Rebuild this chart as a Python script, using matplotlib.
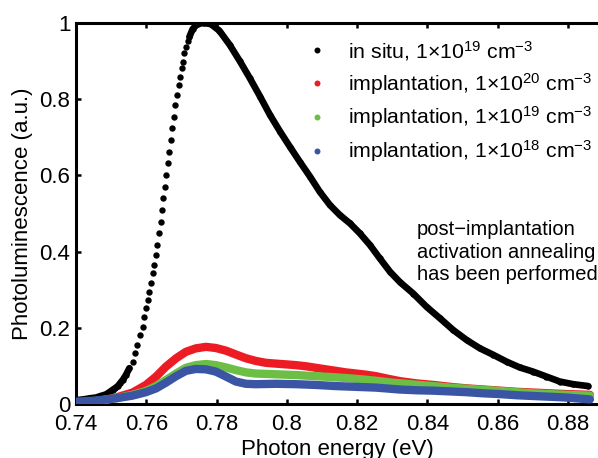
import matplotlib
matplotlib.use('Agg')
import matplotlib.pyplot as plt
import numpy as np
from matplotlib.lines import Line2D

plt.rcParams['font.family'] = ['Liberation Sans', 'DejaVu Sans']
plt.rcParams['mathtext.fontset'] = 'custom'
plt.rcParams['mathtext.rm'] = 'Liberation Sans'
plt.rcParams['mathtext.it'] = 'Liberation Sans:italic'
plt.rcParams['mathtext.bf'] = 'Liberation Sans:bold'

# --- Data ---
# in situ doped, 1e19 cm^-3
insitu_E = [0.7400, 0.7420, 0.7440, 0.7457, 0.7470, 0.7485, 0.7495, 0.7504, 0.7512, 0.7519,
            0.7526, 0.7533, 0.7542, 0.7552, 0.7561, 0.7569, 0.7575, 0.7583, 0.7590, 0.7594,
            0.7599, 0.7604, 0.7609, 0.7613, 0.7618, 0.7623, 0.7628, 0.7631, 0.7636, 0.7641,
            0.7645, 0.7649, 0.7653, 0.7657, 0.7662, 0.7666, 0.7670, 0.7674, 0.7678, 0.7683,
            0.7687, 0.7692, 0.7697, 0.7701, 0.7704, 0.7708, 0.7713, 0.7718, 0.7723, 0.7732,
            0.7746, 0.7765, 0.7784, 0.7808, 0.7838, 0.7867, 0.7895, 0.7924, 0.7952, 0.7981,
            0.8009, 0.8037, 0.8066, 0.8094, 0.8123, 0.8151, 0.8180, 0.8208, 0.8237, 0.8265,
            0.8294, 0.8322, 0.8360, 0.8398, 0.8436, 0.8474, 0.8512, 0.8550, 0.8588, 0.8626,
            0.8663, 0.8701, 0.8739, 0.8777, 0.8815, 0.8858]
insitu_I = [0.010, 0.012, 0.015, 0.017, 0.021, 0.025, 0.031, 0.037, 0.042, 0.047,
            0.055, 0.063, 0.076, 0.094, 0.111, 0.133, 0.155, 0.181, 0.203, 0.229,
            0.251, 0.273, 0.295, 0.317, 0.343, 0.365, 0.391, 0.417, 0.448, 0.479,
            0.509, 0.540, 0.570, 0.601, 0.632, 0.662, 0.693, 0.724, 0.754, 0.785,
            0.811, 0.836, 0.859, 0.881, 0.898, 0.920, 0.938, 0.952, 0.964, 0.984,
            0.998, 1.000, 0.997, 0.980, 0.942, 0.899, 0.855, 0.807, 0.759, 0.715,
            0.675, 0.636, 0.597, 0.557, 0.522, 0.496, 0.474, 0.448, 0.417, 0.382,
            0.347, 0.320, 0.290, 0.255, 0.225, 0.194, 0.168, 0.146, 0.129, 0.111,
            0.096, 0.085, 0.072, 0.059, 0.052, 0.047]

# implantation, 1e20 cm^-3
imp20_E = [0.7400, 0.7457, 0.7514, 0.7561, 0.7599, 0.7628, 0.7656, 0.7685, 0.7713, 0.7741,
           0.7770, 0.7798, 0.7827, 0.7855, 0.7884, 0.7912, 0.7941, 0.7969, 0.7998, 0.8026,
           0.8055, 0.8083, 0.8111, 0.8140, 0.8168, 0.8197, 0.8225, 0.8254, 0.8284, 0.8322,
           0.8370, 0.8417, 0.8465, 0.8512, 0.8560, 0.8607, 0.8654, 0.8701, 0.8750, 0.8796,
           0.8863]
imp20_I = [0.004, 0.006, 0.017, 0.030, 0.050, 0.072, 0.098, 0.120, 0.137, 0.146,
           0.150, 0.147, 0.140, 0.130, 0.120, 0.113, 0.108, 0.106, 0.104, 0.102,
           0.099, 0.095, 0.091, 0.087, 0.083, 0.080, 0.077, 0.073, 0.067, 0.060,
           0.054, 0.050, 0.045, 0.041, 0.038, 0.035, 0.032, 0.030, 0.028, 0.026,
           0.024]

# implantation, 1e19 cm^-3
imp19_E = [0.7400, 0.7457, 0.7514, 0.7561, 0.7599, 0.7628, 0.7656, 0.7685, 0.7713, 0.7741,
           0.7770, 0.7798, 0.7827, 0.7855, 0.7884, 0.7912, 0.7969, 0.8026, 0.8083, 0.8140,
           0.8197, 0.8254, 0.8300, 0.8350, 0.8417, 0.8465, 0.8512, 0.8560, 0.8607, 0.8654,
           0.8701, 0.8750, 0.8796, 0.8863]
imp19_I = [0.003, 0.008, 0.015, 0.024, 0.034, 0.047, 0.063, 0.080, 0.095, 0.102,
           0.105, 0.102, 0.096, 0.089, 0.083, 0.080, 0.078, 0.076, 0.073, 0.070,
           0.066, 0.061, 0.056, 0.052, 0.047, 0.043, 0.040, 0.037, 0.034, 0.031,
           0.028, 0.026, 0.024, 0.022]

# implantation, 1e18 cm^-3
imp18_E = [0.7400, 0.7457, 0.7514, 0.7561, 0.7599, 0.7628, 0.7656, 0.7685, 0.7713, 0.7741,
           0.7770, 0.7798, 0.7827, 0.7855, 0.7884, 0.7912, 0.7969, 0.8026, 0.8083, 0.8140,
           0.8197, 0.8254, 0.8322, 0.8370, 0.8417, 0.8465, 0.8512, 0.8560, 0.8607, 0.8654,
           0.8701, 0.8750, 0.8796, 0.8863]
imp18_I = [0.006, 0.009, 0.015, 0.022, 0.031, 0.041, 0.056, 0.073, 0.087, 0.092,
           0.091, 0.085, 0.072, 0.059, 0.053, 0.052, 0.053, 0.052, 0.050, 0.047,
           0.045, 0.043, 0.038, 0.036, 0.035, 0.033, 0.031, 0.028, 0.026, 0.023,
           0.021, 0.019, 0.017, 0.012]

labels = [r'in situ, 1$\times$10$^{19}$ cm$^{-3}$',
          r'implantation, 1$\times$10$^{20}$ cm$^{-3}$',
          r'implantation, 1$\times$10$^{19}$ cm$^{-3}$',
          r'implantation, 1$\times$10$^{18}$ cm$^{-3}$']
colors = ['#000000', '#ED1C24', '#6DBE45', '#3B55A5']

x_ticks = [0.74, 0.76, 0.78, 0.80, 0.82, 0.84, 0.86, 0.88]
y_ticks = [0, 0.2, 0.4, 0.6, 0.8, 1.0]

# --- Figure ---
fig = plt.figure(figsize=(5.98, 4.58), dpi=100)
ax = fig.add_axes([76 / 598, 1 - 404 / 458, 1 - 76 / 598, (404 - 23) / 458])

# in situ: dots, solid where the dots merge
E = np.array(insitu_E)
I = np.array(insitu_I)
I_line = np.where((E > 0.7556) & (E < 0.7720), np.nan, I)
ax.plot(E, I_line, '-', color=colors[0], lw=4.8, solid_capstyle='round', zorder=2)
ax.plot(E, I, 'o', color=colors[0], ms=4.6, mew=0, zorder=2)

# implanted samples: thick bands
for xs, ys, c, z in [(imp20_E, imp20_I, colors[1], 3),
                     (imp19_E, imp19_I, colors[2], 4),
                     (imp18_E, imp18_I, colors[3], 5)]:
    ax.plot(xs, ys, '-', color=c, lw=6.0, solid_capstyle='round', zorder=z)

ax.set_xlim(0.74, 0.8886)
ax.set_ylim(0, 1)
ax.set_xticks(x_ticks)
ax.set_yticks(y_ticks)
ax.set_xticklabels(['%g' % t for t in x_ticks])
ax.set_yticklabels(['%g' % t for t in y_ticks])
ax.tick_params(direction='in', length=3.5, width=1.8, labelsize=16, top=True, right=False, pad=4)
ax.tick_params(axis='x', pad=7)
for s in ['left', 'bottom', 'top']:
    ax.spines[s].set_linewidth(2.2)
ax.spines['right'].set_visible(False)

ax.set_xlabel('Photon energy (eV)', fontsize=16, labelpad=3)
ax.set_ylabel('Photoluminescence (a.u.)', fontsize=16, labelpad=5)

handles = [Line2D([], [], ls='none', marker='o', color=c, ms=4.3, mew=0) for c in colors]
ax.legend(handles, labels, loc='upper left', bbox_to_anchor=(300 / 598, 1 - 28 / 458),
          bbox_transform=fig.transFigure, frameon=False, fontsize=15.3,
          handlelength=0.6, handletextpad=1.15, labelspacing=0.38, borderpad=0)

ax.text(417, 458 - 252, 'post\u2212implantation\nactivation annealing\nhas been performed',
        transform=None, fontsize=14.5, ha='left', va='center', linespacing=1.22)

fig.savefig('out.png', dpi=100)
